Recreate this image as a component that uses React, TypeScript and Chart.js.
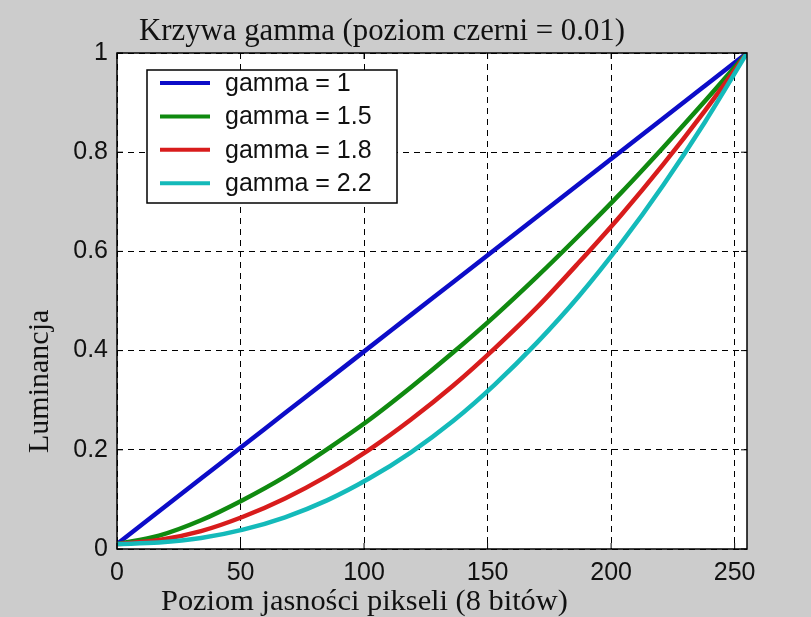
import React, { useEffect, useRef } from "react";
import { Chart, registerables } from "chart.js";

Chart.register(...registerables);

const xLevels = [0, 17, 34, 51, 68, 85, 102, 119, 136, 153, 170, 187, 204, 221, 238, 255];
const gamma1 = [0.01, 0.076, 0.142, 0.208, 0.274, 0.34, 0.406, 0.472, 0.538, 0.604, 0.67, 0.736, 0.802, 0.868, 0.934, 1.0];
const gamma15 = [0.01, 0.027, 0.058, 0.099, 0.146, 0.201, 0.26, 0.326, 0.396, 0.47, 0.549, 0.632, 0.718, 0.809, 0.903, 1.0];
const gamma18 = [0.01, 0.018, 0.036, 0.065, 0.102, 0.147, 0.2, 0.261, 0.329, 0.405, 0.487, 0.578, 0.673, 0.775, 0.884, 1.0];
const gamma22 = [0.01, 0.013, 0.022, 0.039, 0.064, 0.098, 0.142, 0.195, 0.258, 0.332, 0.416, 0.51, 0.616, 0.733, 0.861, 1.0];

const seriesLabels = ["gamma = 1", "gamma = 1.5", "gamma = 1.8", "gamma = 2.2"];
const seriesColors = ["#0c0cc8", "#108a10", "#d81c1c", "#14baba"];

const xTicks = [0, 50, 100, 150, 200, 250];
const yTicks = [0, 0.2, 0.4, 0.6, 0.8, 1];

const titleText = "Krzywa gamma (poziom czerni = 0.01)";
const xTitle = "Poziom jasności pikseli (8 bitów)";
const yTitle = "Luminancja";

const SERIF = "'Liberation Serif', 'Times New Roman', serif";
const SANS = "'Liberation Sans', Arial, sans-serif";

const decorPlugin = {
  id: "matlabDecor",
  beforeDraw(chart: any) {
    const { ctx, chartArea: a } = chart;
    ctx.save();
    ctx.fillStyle = "#ffffff";
    ctx.fillRect(a.left, a.top, a.right - a.left, a.bottom - a.top);
    ctx.restore();
  },
  afterDatasetsDraw(chart: any) {
    const { ctx, chartArea: a, scales } = chart;
    ctx.save();
    // box
    ctx.strokeStyle = "#000";
    ctx.lineWidth = 1.5;
    ctx.strokeRect(a.left, a.top, a.right - a.left, a.bottom - a.top);
    // inward ticks
    ctx.lineWidth = 1;
    const tl = 6;
    xTicks.forEach((v) => {
      const px = scales.x.getPixelForValue(v);
      ctx.beginPath();
      ctx.moveTo(px, a.bottom);
      ctx.lineTo(px, a.bottom - tl);
      ctx.moveTo(px, a.top);
      ctx.lineTo(px, a.top + tl);
      ctx.stroke();
    });
    yTicks.forEach((v) => {
      const py = scales.y.getPixelForValue(v);
      ctx.beginPath();
      ctx.moveTo(a.left, py);
      ctx.lineTo(a.left + tl, py);
      ctx.moveTo(a.right, py);
      ctx.lineTo(a.right - tl, py);
      ctx.stroke();
    });

    // legend
    const lx = a.left + 30;
    const ly = a.top + 17;
    const lw = 250;
    const lh = 133;
    ctx.fillStyle = "#ffffff";
    ctx.fillRect(lx, ly, lw, lh);
    ctx.strokeStyle = "#000";
    ctx.lineWidth = 1.5;
    ctx.strokeRect(lx, ly, lw, lh);
    ctx.font = `25px ${SANS}`;
    ctx.textBaseline = "middle";
    ctx.textAlign = "left";
    chart.data.datasets.forEach((ds: any, i: number) => {
      const ry = ly + 13 + i * 33.4;
      ctx.strokeStyle = ds.borderColor;
      ctx.lineWidth = 4;
      ctx.beginPath();
      ctx.moveTo(lx + 13, ry);
      ctx.lineTo(lx + 63, ry);
      ctx.stroke();
      ctx.fillStyle = "#111";
      ctx.fillText(ds.label, lx + 78, ry + 1);
    });

    // titles
    ctx.fillStyle = "#111";
    ctx.textBaseline = "alphabetic";
    ctx.textAlign = "left";
    ctx.font = `30.8px ${SERIF}`;
    ctx.fillText(titleText, a.left + 22, a.top - 13);
    ctx.font = `30.4px ${SERIF}`;
    ctx.fillText(xTitle, a.left + 44, a.bottom + 61);
    ctx.font = `30px ${SERIF}`;
    ctx.save();
    ctx.translate(a.left - 69, a.bottom - 96);
    ctx.rotate(-Math.PI / 2);
    ctx.fillText(yTitle, 0, 0);
    ctx.restore();
    ctx.restore();
  },
};

export default function App() {
  const ref = useRef<HTMLCanvasElement | null>(null);
  useEffect(() => {
    if (!ref.current) return;
    const datasets = [gamma1, gamma15, gamma18, gamma22].map((vals, i) => ({
      label: seriesLabels[i],
      data: xLevels.map((x, j) => ({ x, y: vals[j] })),
      borderColor: seriesColors[i],
      backgroundColor: seriesColors[i],
      borderWidth: 4.5,
      pointRadius: 0,
      cubicInterpolationMode: "monotone" as const,
      fill: false,
      order: 4 - i,
    }));
    const chart = new Chart(ref.current, {
      type: "line",
      data: { datasets },
      options: {
        animation: false,
        responsive: false,
        maintainAspectRatio: false,
        layout: { padding: { left: 0, right: 64, top: 53, bottom: 0 } },
        plugins: { legend: { display: false }, tooltip: { enabled: false }, title: { display: false } },
        scales: {
          x: {
            type: "linear",
            min: 0,
            max: 255,
            afterBuildTicks: (s: any) => {
              s.ticks = xTicks.map((v) => ({ value: v }));
            },
            afterFit: (s: any) => {
              s.height = 68;
            },
            ticks: {
              color: "#111",
              font: { family: SANS, size: 25 },
              padding: 9,
              maxRotation: 0,
              autoSkip: false,
              callback: (v: any) => String(v),
            },
            grid: { color: "#000", lineWidth: 1, drawTicks: false },
            border: { display: false, dash: [6, 5] },
          },
          y: {
            type: "linear",
            min: 0,
            max: 1,
            afterBuildTicks: (s: any) => {
              s.ticks = yTicks.map((v) => ({ value: v }));
            },
            afterFit: (s: any) => {
              s.width = 117;
            },
            ticks: {
              color: "#111",
              font: { family: SANS, size: 25 },
              padding: 9,
              autoSkip: false,
              callback: (v: any) => String(Math.round(v * 10) / 10),
            },
            grid: { color: "#000", lineWidth: 1, drawTicks: false },
            border: { display: false, dash: [6, 5] },
          },
        },
      },
      plugins: [decorPlugin],
    });
    return () => chart.destroy();
  }, []);
  return (
    <div style={{ position: "fixed", left: 0, top: 0, width: 811, height: 617, background: "#cccccc" }}>
      <canvas ref={ref} width={811} height={617} style={{ display: "block", width: 811, height: 617 }} />
    </div>
  );
}
